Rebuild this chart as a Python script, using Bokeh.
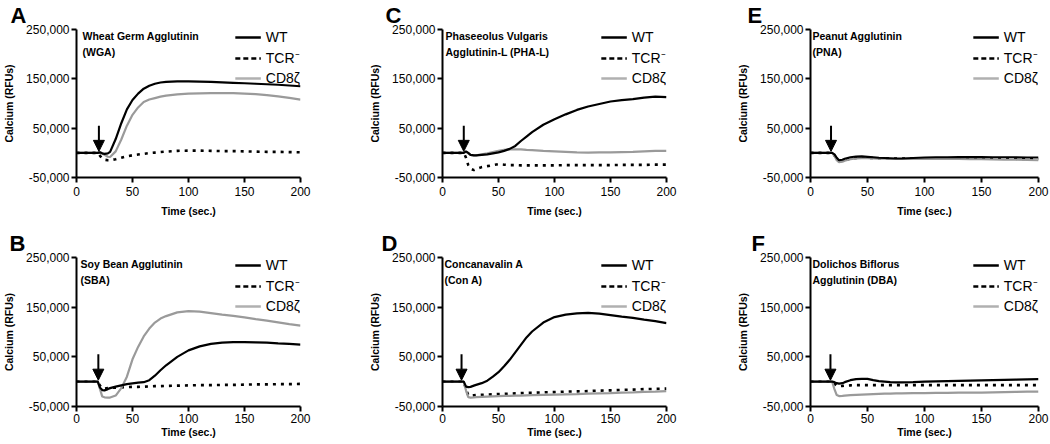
from bokeh.plotting import figure
from bokeh.layouts import column, row
from bokeh.models import (Range1d, FixedTicker, NumeralTickFormatter, Label, Arrow,
                          NormalHead, Legend, LegendItem, ColumnDataSource)
from bokeh.embed import file_html
from bokeh.resources import INLINE

FONT = "Liberation Sans"

# ---------------- data ----------------
time = [0, 10, 19, 21, 23, 25, 28, 30, 35, 40, 45, 50, 55, 60, 65, 70, 75, 80,
        90, 100, 110, 120, 130, 140, 150, 160, 170, 180, 190, 200]

series_names = ["WT", "TCR\u207b", "CD8\u03b6"]

A_wt = [0, 0, 0, 1000, -1000, -2000, -1000, 2000, 28000, 60000, 88000, 107000, 120000, 130000, 136000,
        140000, 142500, 144000, 145000, 145000, 144500, 144000, 143000, 142000, 141000, 140000, 139000,
        138000, 136500, 135000]
A_tcr = [0, 0, 0, -6000, -11000, -14000, -15000, -15000, -13000, -10000, -7000, -5000, -3500, -2000, -500,
         500, 1500, 2500, 4000, 4500, 4500, 4000, 3500, 3500, 3000, 2500, 2000, 2000, 1500, 1000]
A_cd8 = [0, 0, 0, 1000, -2000, -4000, -8000, -8500, 3000, 27000, 55000, 77000, 92000, 103000, 108000,
         111000, 114000, 116000, 118500, 120000, 120500, 121000, 121000, 121000, 120000, 119000, 117000,
         114500, 111500, 108000]

C_wt = [0, 0, 0, 3000, 0, -4000, -5000, -5000, -4000, -3000, -1000, 1000, 4000, 8000, 14000, 24000, 33000,
        42000, 57000, 68000, 78000, 87000, 94000, 99000, 104000, 107000, 109000, 112000, 114000, 113000]
C_tcr = [0, 0, 0, -10000, -25000, -32000, -35000, -33000, -29000, -27000, -25000, -23000, -24000, -25000,
         -25000, -25500, -25500, -25500, -25500, -25500, -25000, -25000, -25000, -25000, -25000, -24500,
         -24500, -24500, -24000, -24000]
C_cd8 = [0, 0, 0, 2000, -1000, -4000, -5000, -5000, -3000, -1000, 1500, 4000, 6000, 7000, 7000, 7000,
         6000, 5500, 4000, 3000, 2000, 1000, 500, 1000, 1000, 1500, 2000, 3000, 4000, 4000]

E_wt = [0, 0, 0, -3000, -10000, -15000, -14000, -12000, -9000, -7500, -7000, -8000, -9000, -10000, -10500,
        -11000, -11500, -11500, -10500, -9500, -9000, -9000, -8500, -8500, -8500, -9000, -9000, -9000,
        -9500, -9500]
E_tcr = [0, 0, 0, -5000, -13000, -17000, -16000, -15000, -12000, -10500, -10000, -10000, -10500, -11000,
         -11000, -11500, -11500, -11500, -11500, -11500, -11500, -11000, -11000, -11000, -11000, -11500,
         -12000, -12000, -12500, -12500]
E_cd8 = [0, 0, 0, -6000, -15000, -19000, -18000, -16000, -13000, -11500, -11000, -11000, -11500, -12000,
         -12000, -12500, -12500, -12500, -12500, -12500, -12500, -12500, -12500, -13000, -13000, -13500,
         -14000, -14000, -14500, -15000]

B_wt = [0, 0, 0, -12000, -17000, -17500, -15000, -13000, -10000, -7500, -5000, -3500, -2000, -1000, 3000,
        12000, 23000, 33000, 50000, 63000, 71000, 76000, 78500, 79500, 79500, 79000, 78500, 77000, 76000,
        74500]
B_tcr = [0, 0, 0, -8000, -13000, -14000, -13000, -12500, -12000, -11500, -11000, -10500, -10500, -10000,
         -9500, -9000, -9000, -8500, -8000, -7500, -7000, -7000, -6500, -6500, -6000, -5500, -5500, -5000,
         -5000, -4500]
B_cd8 = [0, 0, 0, -15000, -30000, -31500, -32000, -32000, -28000, -13000, 10000, 45000, 70000, 91000,
         107000, 119000, 127000, 132000, 139500, 142000, 141000, 138000, 135000, 132500, 129500, 126000,
         123000, 119500, 116000, 113000]

D_wt = [0, 0, 0, -10000, -11000, -10500, -8000, -6500, -3000, 2000, 10000, 19000, 31000, 44000, 59000,
        74000, 89000, 101000, 119000, 130000, 135000, 137500, 138500, 137000, 134000, 131000, 128500,
        125000, 122000, 118000]
D_tcr = [0, 0, 0, -15000, -27000, -28000, -27500, -27000, -26500, -26000, -25500, -25000, -24500, -24000,
         -23500, -23000, -22500, -22500, -21500, -21000, -20000, -19500, -19000, -18000, -17500, -16500,
         -16000, -15000, -14500, -14000]
D_cd8 = [0, 0, 0, -18000, -31000, -32000, -31500, -31000, -30500, -30000, -29500, -29000, -28500, -28500,
         -28000, -28000, -27500, -27000, -26500, -26000, -25500, -25000, -24000, -23500, -23000, -22000,
         -21500, -20500, -20000, -19000]

F_wt = [0, 0, 0, -1000, -3000, -4000, -3000, -1000, 3000, 5000, 5500, 5500, 3000, 1000, 0, -1000, -1500,
        -1500, -1000, 0, 500, 1000, 1500, 2000, 2500, 3000, 3500, 4000, 4500, 5000]
F_tcr = [0, 0, 0, -4000, -8000, -9000, -8500, -8000, -7500, -7000, -7000, -7000, -7000, -7000, -7000,
         -7000, -7000, -7000, -7000, -7000, -7000, -7000, -7000, -7000, -7000, -7000, -7000, -7000, -7000,
         -7000]
F_cd8 = [0, 0, 0, -15000, -27000, -29000, -28500, -28000, -27000, -26500, -26000, -25500, -25000, -24500,
         -24000, -24000, -23500, -23500, -23000, -23000, -22500, -22500, -22000, -22000, -22000, -21500,
         -21000, -20500, -20000, -20000]

panel_letters = ["A", "C", "E", "B", "D", "F"]
panel_titles = [
    ["Wheat Germ Agglutinin", " (WGA)"],
    ["Phaseeolus Vulgaris", "Agglutinin-L (PHA-L)"],
    ["Peanut Agglutinin", "(PNA)"],
    ["Soy Bean Agglutinin", "(SBA)"],
    ["Concanavalin A", "(Con A)"],
    ["Dolichos Biflorus", "Agglutinin (DBA)"],
]
panel_data = [(A_wt, A_tcr, A_cd8), (C_wt, C_tcr, C_cd8), (E_wt, E_tcr, E_cd8),
              (B_wt, B_tcr, B_cd8), (D_wt, D_tcr, D_cd8), (F_wt, F_tcr, F_cd8)]
arrow_x = [20, 19, 18, 19.5, 17, 17.5]
arrow_y = [55000, 3000]

x_ticks = [0, 50, 100, 150, 200]
y_ticks = [-50000, 50000, 150000, 250000]

# ---------------- layout geometry ----------------
col_w = [350, 350, 350]
col_left = [76, 92, 110]
col_frame = [224, 224, 228]
row_h = [228, 216]
row_top = [29, 29]
row_frame = [148, 149]
letter_dx = [-66, -57, -63, -67, -61, -59]
title_dx = [6, 3, 2, 4, 2, 2]

BLACK = "#000000"
GRAY = "#9a9a9a"


def make_panel(i):
    r, c = divmod(i, 3)
    wt, tcr, cd8 = panel_data[i]
    p = figure(width=col_w[c], height=row_h[r], output_backend="svg", toolbar_location=None,
               x_range=Range1d(0, 200), y_range=Range1d(-50000, 250000),
               min_border_left=col_left[c],
               min_border_right=col_w[c] - col_left[c] - col_frame[c],
               min_border_top=row_top[r],
               min_border_bottom=row_h[r] - row_top[r] - row_frame[r])
    p.outline_line_color = None
    p.xgrid.visible = False
    p.ygrid.visible = False
    p.background_fill_color = "white"
    p.border_fill_color = "white"

    # panel letter as the figure title
    p.title.text = panel_letters[i]
    p.title.align = "left"
    p.title.vertical_align = "top"
    p.title.offset = letter_dx[i]
    p.title.standoff = 0
    p.title.text_font = FONT
    p.title.text_font_size = "22px"
    p.title.text_font_style = "bold"
    p.title.text_color = BLACK

    for ax in (p.xaxis[0], p.yaxis[0]):
        ax.axis_line_width = 2
        ax.axis_line_color = BLACK
        ax.major_tick_line_width = 2
        ax.major_tick_line_color = BLACK
        ax.major_tick_out = 5
        ax.major_tick_in = 0
        ax.minor_tick_line_color = None
        ax.major_label_text_font = FONT
        ax.major_label_text_font_size = "12px"
        ax.major_label_text_color = BLACK
        ax.axis_label_text_font = FONT
        ax.axis_label_text_font_size = "10.5px"
        ax.axis_label_text_font_style = "bold"
        ax.axis_label_text_color = BLACK

    p.xaxis.ticker = FixedTicker(ticks=x_ticks)
    p.yaxis.ticker = FixedTicker(ticks=y_ticks)
    p.yaxis.formatter = NumeralTickFormatter(format="0,0")
    p.xaxis.axis_label = "Time (sec.)"
    p.yaxis.axis_label = "Calcium (RFUs)"
    p.xaxis.major_label_standoff = 4 if r == 0 else 2
    p.xaxis.axis_label_standoff = 6 if r == 0 else 0
    p.yaxis.major_label_standoff = 2
    p.yaxis.axis_label_standoff = 8

    src = ColumnDataSource(dict(t=time, wt=wt, tcr=tcr, cd8=cd8))
    p.line("t", "tcr", source=src, line_color=BLACK, line_width=2.6, line_dash="3 5")
    p.line("t", "cd8", source=src, line_color=GRAY, line_width=2.2)
    p.line("t", "wt", source=src, line_color=BLACK, line_width=2.2)

    # legend proxies (legend shows dashes, plot shows dots for TCR-); kept outside the x range
    proxy = ColumnDataSource(dict(x=[-100, -90], y=[0, 0]))
    l1 = p.line("x", "y", source=proxy, line_color=BLACK, line_width=2.4)
    l2 = p.line("x", "y", source=proxy, line_color=BLACK, line_width=2.4, line_dash="5 3")
    l3 = p.line("x", "y", source=proxy, line_color="#b0b0b0", line_width=2.4)
    legend = Legend(items=[LegendItem(label=series_names[0], renderers=[l1]),
                           LegendItem(label=series_names[1], renderers=[l2]),
                           LegendItem(label=series_names[2], renderers=[l3])],
                    location="top_right", margin=0, padding=0, spacing=3,
                    glyph_width=26, glyph_height=14, label_height=14, label_standoff=5,
                    label_text_font=FONT, label_text_font_size="14px", label_text_color=BLACK,
                    border_line_color=None, background_fill_alpha=0)
    p.add_layout(legend)

    # stimulus arrow
    p.add_layout(Arrow(x_start=arrow_x[i], y_start=arrow_y[0], x_end=arrow_x[i], y_end=arrow_y[1],
                       line_width=2, line_color=BLACK,
                       end=NormalHead(size=11, fill_color=BLACK, line_color=BLACK, line_width=1)))

    # panel title (two lines)
    for k, txt in enumerate(panel_titles[i]):
        p.add_layout(Label(x=0, y=250000, x_offset=title_dx[i], y_offset=-6 - 16.5 * k, text=txt,
                           text_baseline="middle", text_font=FONT, text_font_size="10.5px",
                           text_font_style="bold", text_color=BLACK))
    return p


panels = [make_panel(i) for i in range(6)]
layout = column(row(panels[0], panels[1], panels[2]), row(panels[3], panels[4], panels[5]))

open("out.html", "w").write(file_html(layout, INLINE))
